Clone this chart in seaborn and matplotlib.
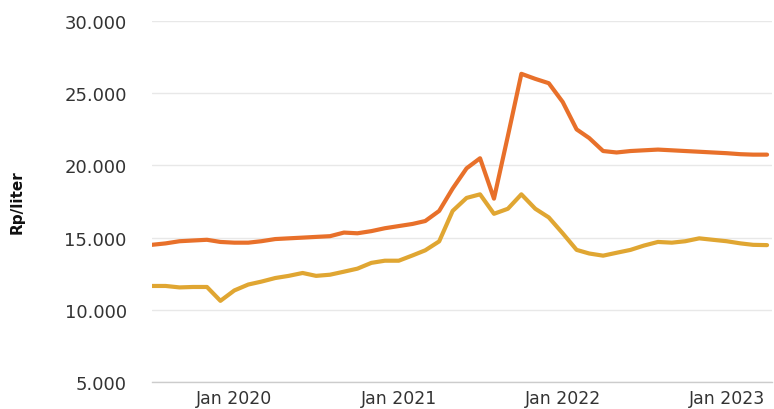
import numpy as np
import pandas as pd
import seaborn as sns
import matplotlib.pyplot as plt
import matplotlib.dates as mdates
from matplotlib.ticker import FuncFormatter

# monthly values, Jul 2019 - Apr 2023
months = pd.date_range('2019-07-01', '2023-04-01', freq='MS')

orange_vals = [14500, 14600, 14750, 14800, 14850, 14700, 14650, 14650, 14750, 14900,
               14950, 15000, 15050, 15100, 15350, 15300, 15450, 15650, 15800, 15950,
               16150, 16850, 18400, 19800, 20500, 17700, 22050, 26350, 26000, 25700,
               24400, 22500, 21900, 21000, 20900, 21000, 21050, 21100, 21050, 21000,
               20950, 20900, 20850, 20780, 20750, 20750]

yellow_vals = [11650, 11650, 11550, 11580, 11580, 10620, 11340, 11750, 11950, 12200,
               12350, 12550, 12350, 12430, 12640, 12850, 13250, 13400, 13400, 13770,
               14120, 14740, 16850, 17750, 18000, 16650, 17000, 18000, 17000, 16400,
               15300, 14150, 13900, 13750, 13950, 14150, 14450, 14700, 14650, 14750,
               14950, 14850, 14750, 14600, 14500, 14480]

df = pd.DataFrame({'month': months, 'orange': orange_vals, 'yellow': yellow_vals})

sns.set_style('white')
plt.rcParams['font.family'] = ['DejaVu Sans']

fig = plt.figure(figsize=(7.74, 4.10), dpi=100)
ax = fig.add_axes([0.196, 0.066, 0.802, 0.880])

sns.lineplot(data=df, x='month', y='orange', color='#E8702A', linewidth=3.0, ax=ax)
sns.lineplot(data=df, x='month', y='yellow', color='#E0A632', linewidth=3.0, ax=ax)

ax.set_ylim(5000, 30000)
ax.set_yticks([5000, 10000, 15000, 20000, 25000, 30000])
ax.yaxis.set_major_formatter(FuncFormatter(lambda v, p: f'{int(v):,}'.replace(',', '.')))
ax.set_xlim(pd.Timestamp('2019-07-01'), pd.Timestamp('2023-04-13'))

ax.xaxis.set_major_locator(mdates.MonthLocator(bymonth=1))
ax.xaxis.set_major_formatter(mdates.DateFormatter('%b %Y'))
ax.xaxis.set_minor_locator(mdates.MonthLocator(bymonth=7))
ax.tick_params(axis='x', which='major', length=0, pad=5, labelsize=12.5, colors='#333333')
ax.tick_params(axis='x', which='minor', length=6, width=1, color='#cccccc')
ax.tick_params(axis='y', length=0, pad=18, labelsize=13, colors='#333333')

ax.grid(axis='y', color='#e8e8e8', linewidth=1)
ax.grid(axis='x', visible=False)
for s in ['top', 'right', 'left']:
    ax.spines[s].set_visible(False)
ax.spines['bottom'].set_color('#cccccc')
ax.spines['bottom'].set_linewidth(1)

ax.set_xlabel('')
ax.set_ylabel('Rp/liter', family=['Liberation Sans Narrow', 'DejaVu Sans'],
              fontsize=11, fontweight='bold', color='#111111')
ax.yaxis.set_label_coords(-0.205, 0.5)

fig.savefig('out.png', dpi=100)
